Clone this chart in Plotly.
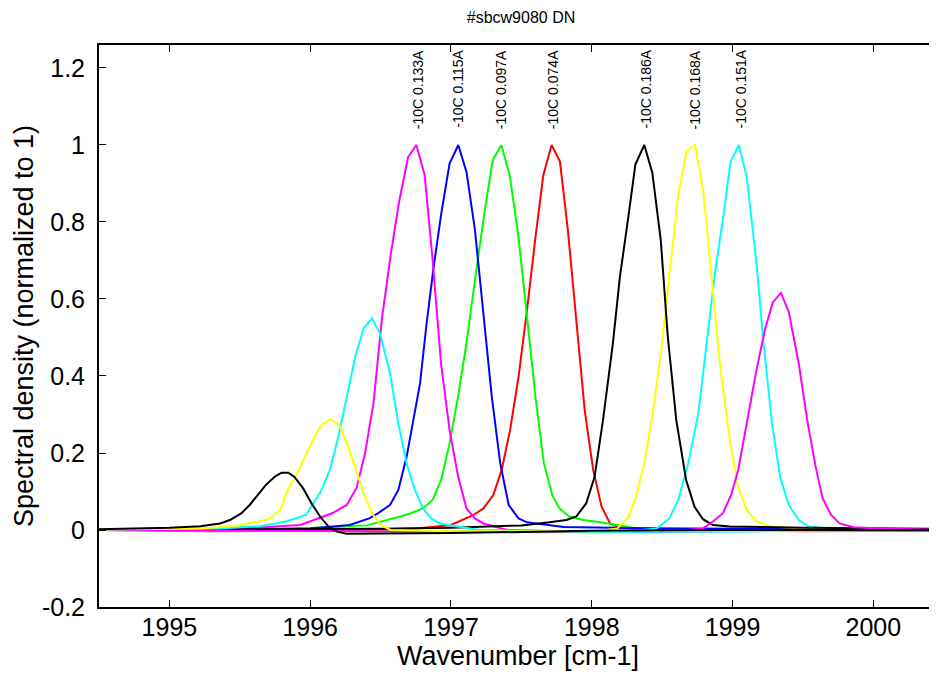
import plotly.graph_objects as go

# ---- data ----
wn_red = [1994.5, 1995.3, 1996.0, 1996.76, 1997.0, 1997.16, 1997.23, 1997.30, 1997.36, 1997.42, 1997.48, 1997.54, 1997.60, 1997.656, 1997.715, 1997.774, 1997.83, 1997.89, 1997.95, 1998.01, 1998.07, 1998.13, 1998.2, 1998.5, 1999.5, 2000.45]
sd_red = [0.0, -0.003, -0.002, 0.004, 0.013, 0.039, 0.056, 0.09, 0.156, 0.26, 0.398, 0.571, 0.76, 0.922, 1.0, 0.957, 0.78, 0.554, 0.31, 0.156, 0.06, 0.017, 0.006, 0.0, -0.003, -0.002]

wn_green = [1994.5, 1995.5, 1996.0, 1996.4, 1996.64, 1996.71, 1996.80, 1996.87, 1996.93, 1996.99, 1997.05, 1997.11, 1997.18, 1997.24, 1997.296, 1997.357, 1997.417, 1997.48, 1997.54, 1997.60, 1997.66, 1997.72, 1997.77, 1997.84, 1997.94, 1998.06, 1998.3, 1999.0, 2000.45]
sd_green = [0.0, 0.002, 0.005, 0.012, 0.035, 0.043, 0.056, 0.078, 0.13, 0.225, 0.346, 0.485, 0.675, 0.83, 0.96, 1.0, 0.922, 0.76, 0.554, 0.346, 0.173, 0.09, 0.056, 0.035, 0.026, 0.02, 0.005, 0.002, 0.0]

wn_blue = [1994.5, 1995.5, 1996.0, 1996.28, 1996.42, 1996.48, 1996.567, 1996.626, 1996.685, 1996.73, 1996.78, 1996.827, 1996.874, 1996.93, 1996.99, 1997.052, 1997.11, 1997.17, 1997.23, 1997.29, 1997.35, 1997.41, 1997.48, 1997.54, 1997.8, 1998.5, 2000.45]
sd_blue = [0.0, 0.001, 0.004, 0.013, 0.03, 0.043, 0.065, 0.104, 0.19, 0.277, 0.38, 0.537, 0.675, 0.82, 0.952, 1.0, 0.93, 0.78, 0.554, 0.346, 0.173, 0.065, 0.03, 0.02, 0.008, 0.004, 0.002]

wn_magenta = [1994.5, 1995.5, 1995.93, 1996.16, 1996.26, 1996.33, 1996.39, 1996.45, 1996.51, 1996.57, 1996.63, 1996.695, 1996.754, 1996.813, 1996.87, 1996.93, 1996.99, 1997.05, 1997.11, 1997.17, 1997.23, 1997.4, 1998.0, 1999.0, 2000.45]
sd_magenta = [0.0, 0.004, 0.013, 0.044, 0.065, 0.11, 0.2, 0.33, 0.55, 0.71, 0.85, 0.968, 1.0, 0.922, 0.7, 0.43, 0.26, 0.14, 0.056, 0.03, 0.017, 0.0, -0.005, -0.003, 0.0]

wn_cyan = [1994.5, 1996.5, 1997.5, 1998.2, 1998.46, 1998.55, 1998.614, 1998.685, 1998.757, 1998.816, 1998.875, 1998.934, 1998.986, 1999.045, 1999.1, 1999.17, 1999.22, 1999.28, 1999.34, 1999.40, 1999.47, 1999.54, 1999.7, 2000.45]
sd_cyan = [0.0, -0.002, -0.006, -0.006, 0.004, 0.03, 0.078, 0.173, 0.303, 0.485, 0.667, 0.814, 0.957, 1.0, 0.918, 0.693, 0.485, 0.277, 0.134, 0.065, 0.026, 0.009, 0.003, 0.001]

wn_yellow = [1994.5, 1996.6, 1997.5, 1998.0, 1998.18, 1998.26, 1998.314, 1998.378, 1998.437, 1998.496, 1998.555, 1998.614, 1998.674, 1998.733, 1998.79, 1998.85, 1998.91, 1998.98, 1999.04, 1999.10, 1999.17, 1999.27, 1999.5, 2000.45]
sd_yellow = [0.0, -0.002, -0.004, -0.005, 0.004, 0.033, 0.087, 0.182, 0.312, 0.476, 0.675, 0.87, 0.985, 1.0, 0.887, 0.658, 0.433, 0.234, 0.112, 0.052, 0.022, 0.009, 0.004, 0.002]

wn_black = [1994.5, 1996.5, 1997.0, 1997.5, 1997.7, 1997.82, 1997.89, 1997.96, 1998.02, 1998.08, 1998.15, 1998.2, 1998.26, 1998.31, 1998.373, 1998.43, 1998.49, 1998.54, 1998.6, 1998.67, 1998.73, 1998.79, 1998.86, 1998.98, 1999.5, 2000.45]
sd_black = [0.0, 0.003, 0.006, 0.012, 0.02, 0.026, 0.035, 0.069, 0.138, 0.286, 0.485, 0.658, 0.814, 0.95, 1.0, 0.928, 0.753, 0.502, 0.286, 0.13, 0.06, 0.028, 0.013, 0.009, 0.006, 0.003]

wn_magenta2 = [1994.5, 1996.5, 1997.5, 1998.5, 1998.79, 1998.86, 1998.93, 1998.99, 1999.04, 1999.10, 1999.17, 1999.23, 1999.285, 1999.344, 1999.40, 1999.47, 1999.53, 1999.59, 1999.64, 1999.70, 1999.76, 1999.86, 2000.1, 2000.45]
sd_magenta2 = [0.0, -0.003, -0.006, -0.006, 0.004, 0.022, 0.043, 0.091, 0.156, 0.277, 0.416, 0.52, 0.591, 0.616, 0.565, 0.433, 0.286, 0.164, 0.082, 0.039, 0.017, 0.007, 0.003, 0.001]

wn_cyan2 = [1994.5, 1995.36, 1995.64, 1995.83, 1995.97, 1996.075, 1996.14, 1996.2, 1996.26, 1996.32, 1996.38, 1996.439, 1996.496, 1996.567, 1996.626, 1996.685, 1996.744, 1996.8, 1996.86, 1996.92, 1997.2, 1998.0, 1999.0, 2000.45]
sd_cyan2 = [0.001, 0.004, 0.01, 0.022, 0.039, 0.1, 0.156, 0.242, 0.346, 0.45, 0.524, 0.55, 0.511, 0.407, 0.277, 0.173, 0.104, 0.056, 0.03, 0.017, 0.0, -0.005, -0.004, 0.0]

wn_yellow2 = [1994.5, 1995.22, 1995.45, 1995.64, 1995.71, 1995.79, 1995.84, 1995.93, 1996.02, 1996.08, 1996.145, 1996.207, 1996.26, 1996.32, 1996.38, 1996.44, 1996.5, 1996.57, 1997.0, 1998.0, 2000.45]
sd_yellow2 = [0.001, 0.004, 0.01, 0.022, 0.03, 0.052, 0.104, 0.164, 0.234, 0.273, 0.288, 0.273, 0.225, 0.164, 0.095, 0.043, 0.013, 0.0, -0.003, -0.003, 0.0]

wn_black2 = [1994.5, 1995.0, 1995.22, 1995.36, 1995.43, 1995.51, 1995.57, 1995.63, 1995.69, 1995.75, 1995.797, 1995.845, 1995.89, 1995.95, 1996.01, 1996.07, 1996.13, 1996.19, 1996.26, 1997.0, 1997.6, 1998.0, 1999.0, 2000.45]
sd_black2 = [0.002, 0.006, 0.01, 0.017, 0.026, 0.043, 0.065, 0.091, 0.119, 0.139, 0.149, 0.149, 0.137, 0.108, 0.069, 0.035, 0.009, -0.004, -0.01, -0.008, -0.005, -0.002, 0.0, 0.0]

label_wn = [1996.764, 1997.048, 1997.353, 1997.722, 1998.378, 1998.733, 1999.053]
label_text = ["-10C 0.133A", "-10C 0.115A", "-10C 0.097A", "-10C 0.074A",
              "-10C 0.186A", "-10C 0.168A", "-10C 0.151A"]

x_tickvals = [1995, 1996, 1997, 1998, 1999, 2000]
x_ticktext = ["1995", "1996", "1997", "1998", "1999", "2000"]
y_tickvals = [-0.2, 0, 0.2, 0.4, 0.6, 0.8, 1.0, 1.2]
y_ticktext = ["-0.2", "0", "0.2", "0.4", "0.6", "0.8", "1", "1.2"]

series = [
    (wn_red, sd_red, "#ff0000"),
    (wn_green, sd_green, "#00ff00"),
    (wn_blue, sd_blue, "#0000ff"),
    (wn_magenta, sd_magenta, "#ff00ff"),
    (wn_cyan, sd_cyan, "#00ffff"),
    (wn_yellow, sd_yellow, "#ffff00"),
    (wn_black, sd_black, "#000000"),
    (wn_magenta2, sd_magenta2, "#ff00ff"),
    (wn_cyan2, sd_cyan2, "#00ffff"),
    (wn_yellow2, sd_yellow2, "#ffff00"),
    (wn_black2, sd_black2, "#000000"),
]

FONT = "Liberation Sans, Arial, sans-serif"

fig = go.Figure()
for xs, ys, col in series:
    fig.add_trace(go.Scatter(x=xs, y=ys, mode="lines",
                             line=dict(color=col, width=2), showlegend=False,
                             hoverinfo="skip"))

for xw, txt in zip(label_wn, label_text):
    fig.add_annotation(x=xw, y=1, xref="x", yref="paper", text=txt,
                       textangle=-90, showarrow=False, xanchor="center",
                       yanchor="top", yshift=-3,
                       font=dict(family=FONT, size=14, color="black"))

# the page body adds an 8 px offset, so the figure is 8 px smaller than the window
fig.update_layout(
    width=929, height=667,
    margin=dict(l=91, r=0, t=37, b=68),
    paper_bgcolor="white", plot_bgcolor="white",
    font=dict(family=FONT, color="black"),
    title=dict(text="#sbcw9080 DN", x=513 / 929, xanchor="center",
               y=1 - 9 / 667, yanchor="middle",
               font=dict(family=FONT, size=16, color="black")),
    showlegend=False,
)

fig.update_xaxes(range=[1994.5, 2000.452], tickvals=x_tickvals, ticktext=x_ticktext,
                 ticks="inside", ticklen=7, tickwidth=1, tickcolor="black",
                 showline=True, linewidth=2, linecolor="black", mirror="ticks",
                 showgrid=False, zeroline=False, ticklabelstandoff=-3,
                 tickfont=dict(family=FONT, size=25, color="black"),
                 title=dict(text="Wavenumber [cm-1]", standoff=3,
                            font=dict(family=FONT, size=27, color="black")))
fig.update_yaxes(range=[-0.2, 1.2597], tickvals=y_tickvals, ticktext=y_ticktext,
                 ticks="inside", ticklen=7, tickwidth=1, tickcolor="black",
                 showline=True, linewidth=2, linecolor="black", mirror=False,
                 showgrid=False, zeroline=False, ticklabelstandoff=7,
                 tickfont=dict(family=FONT, size=25, color="black"),
                 title=dict(text="Spectral density (normalized to 1)", standoff=0,
                            font=dict(family=FONT, size=27, color="black")))

fig.write_html("out.html")
